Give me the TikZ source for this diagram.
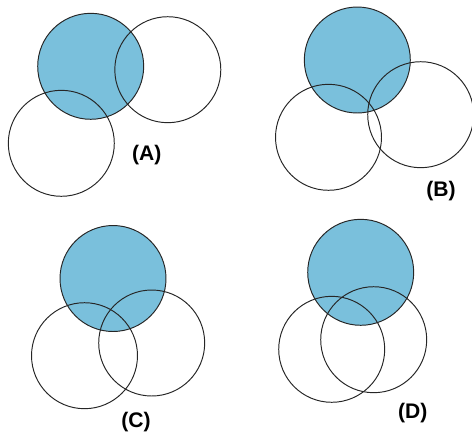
\documentclass[tikz,border=0pt]{standalone}
\usepackage{fontspec}
\setmainfont{Liberation Sans}
\definecolor{vennblue}{RGB}{122,192,220}
\tikzset{
  ring/.style={circle, draw=black!85, line width=0.55pt, minimum size=2.12cm, inner sep=0pt},
  shaded/.style={ring, fill=vennblue},
  tag/.style={font=\bfseries\fontsize{12}{14}\selectfont}
}

\begin{document}
\begin{tikzpicture}[x=0.02cm, y=-0.02cm]
\useasboundingbox (0,0) rectangle (472,433);
% (A)
\node[shaded] (a1) at (90.7, 66.3){};
\node[ring] (a2) at (167.8, 69.7){};
\node[ring] (a3) at (61.3, 143.3){};
\node[tag] (la) at (146.7, 155.5){(A)};
% (B)
\node[shaded] (b1) at (357.3, 60){};
\node[ring] (b2) at (328.5, 137.3){};
\node[ring] (b3) at (420.7, 114.7){};
\node[tag] (lb) at (441, 191.5){(B)};
% (C)
\node[shaded] (c1) at (113, 278.5){};
\node[ring] (c2) at (84.5, 355.7){};
\node[ring] (c3) at (151.7, 343){};
\node[tag] (lc) at (136, 422.5){(C)};
% (D)
\node[shaded] (d1) at (360.7, 272.3){};
\node[ring] (d2) at (331.7, 349.3){};
\node[ring] (d3) at (373.7, 339.7){};
\node[tag] (ld) at (412.7, 412.7){(D)};
\end{tikzpicture}
\end{document}
